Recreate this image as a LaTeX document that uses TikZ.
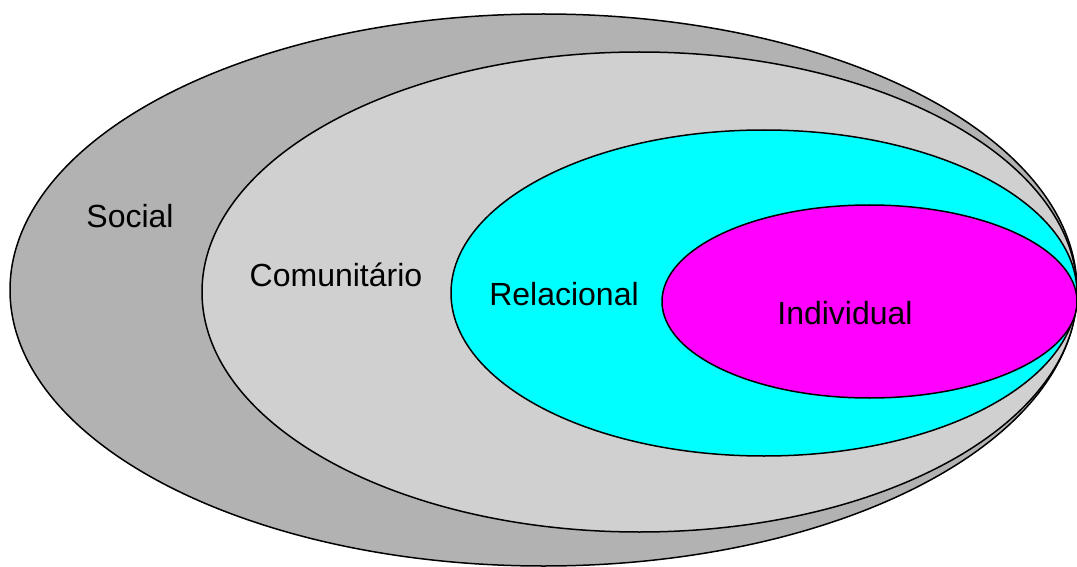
\documentclass[tikz,border=0pt]{standalone}
\usepackage{fontspec}
\setmainfont{Liberation Sans}
\definecolor{socialgray}{RGB}{178,178,178}
\definecolor{comgray}{RGB}{208,208,208}
\definecolor{relcyan}{RGB}{0,255,255}
\definecolor{indmag}{RGB}{255,0,255}
\begin{document}
\begin{tikzpicture}[x=1pt,y=-1pt,
  ring/.style={draw=black,line width=1.5pt},
  lbl/.style={font=\fontsize{32}{38}\selectfont,inner sep=0pt}]
\useasboundingbox (0,0) rectangle (1077,567);
\begin{scope}
\clip (0,0) rectangle (1077,567);
\filldraw[ring,fill=socialgray] (543.5,290) ellipse [x radius=533.5,y radius=276];
\filldraw[ring,fill=comgray] (639.5,292) ellipse [x radius=437.5,y radius=240];
\filldraw[ring,fill=relcyan] (764,293) ellipse [x radius=313,y radius=163];
\filldraw[ring,fill=indmag] (869.5,301.5) ellipse [x radius=207.5,y radius=96.5];
\end{scope}
\node[lbl] (social) at (130,216) {Social};
\node[lbl] (comunitario) at (336,275) {Comunitário};
\node[lbl] (relacional) at (564,294) {Relacional};
\node[lbl] (individual) at (845,313) {Individual};
\end{tikzpicture}
\end{document}
